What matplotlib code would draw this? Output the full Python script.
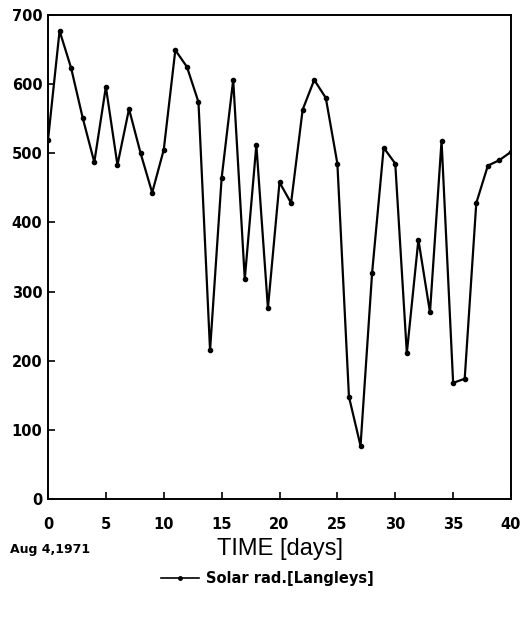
import matplotlib
matplotlib.use("Agg")
import matplotlib.pyplot as plt
from matplotlib.lines import Line2D

days = list(range(41))
solar_rad = [519, 677, 623, 551, 487, 596, 483, 564, 500, 443,
             505, 649, 625, 574, 215, 464, 606, 318, 512, 276,
             458, 428, 563, 606, 580, 485, 148, 77, 327, 508,
             485, 211, 375, 270, 518, 168, 174, 428, 482, 490,
             502]
x_ticks = [0, 5, 10, 15, 20, 25, 30, 35, 40]
y_ticks = [0, 100, 200, 300, 400, 500, 600, 700]

plt.rcParams['font.family'] = ['DejaVu Sans']

fig = plt.figure(figsize=(5.24, 6.2), dpi=100)
ax = fig.add_axes([0.0916, 0.195, 0.8836, 0.781])
ax.plot(days, solar_rad, color='black', lw=1.6, marker='o', ms=3)
ax.set_xlim(0, 40)
ax.set_ylim(0, 700)
ax.set_xticks(x_ticks)
ax.set_yticks(y_ticks)
ax.tick_params(direction='in', length=5, width=1.2, labelsize=10.5)
ax.tick_params(axis='x', pad=13)
ax.tick_params(axis='y', pad=4)
for lab in ax.get_xticklabels() + ax.get_yticklabels():
    lab.set_fontweight('bold')
for s in ax.spines.values():
    s.set_linewidth(1.4)
ax.set_xlabel('TIME [days]', fontsize=17, labelpad=4, family='Liberation Sans')
fig.text(0.02, 0.113, 'Aug 4,1971', fontsize=9, fontweight='bold', ha='left', va='center')

handle = Line2D([], [], color='black', lw=1.2, marker='o', ms=2.5)
fig.legend([handle], ['Solar rad.[Langleys]'], loc='center', bbox_to_anchor=(0.51, 0.067),
           frameon=False, prop={'size': 10.5, 'weight': 'bold'}, handlelength=2.6, handletextpad=0.5)

fig.savefig('out.png', dpi=100)
